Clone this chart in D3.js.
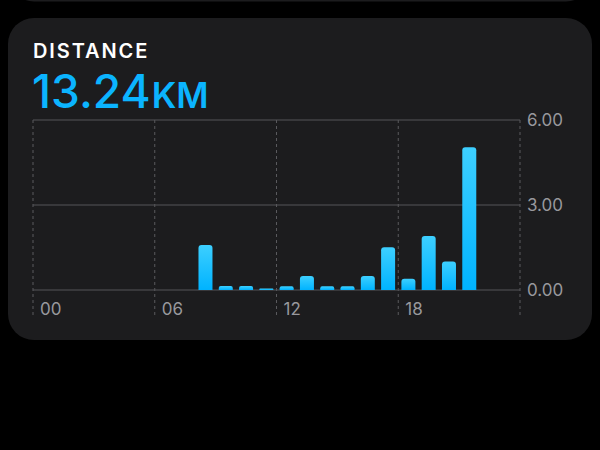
<!DOCTYPE html>
<head>
<meta charset="utf-8">
<style>
  html,body {
    margin: 0;
    background: #000;
    font-family: Inter, "Noto Sans", sans-serif;
  }
</style>
<script src="https://d3js.org/d3.v7.min.js"></script>
</head>
<body>
<div id="viz"></div>
<script>
// hourly distance (km)
const hours = [8, 9, 10, 11, 12, 13, 14, 15, 16, 17, 18, 19, 20, 21];
const dist = [1.59, 0.14, 0.14, 0.05, 0.13, 0.49, 0.13, 0.13, 0.49, 1.51, 0.40, 1.91, 1.01, 5.04];
const xTicks = [0, 6, 12, 18];
const xTickLabels = ["00", "06", "12", "18"];
const yTicks = [0, 3, 6];
const title = "DISTANCE";
const total = "13.24";
const unit = "KM";

var svg = d3.select("#viz").append("svg")
  .attr("width", 600)
  .attr("height", 450);

var defs = svg.append("defs");
var grad = defs.append("linearGradient")
  .attr("id", "barGrad")
  .attr("x1", 0).attr("y1", 0).attr("x2", 0).attr("y2", 1);
grad.append("stop").attr("offset", "0%").attr("stop-color", "#3dcfff");
grad.append("stop").attr("offset", "100%").attr("stop-color", "#00b3ff");

// card above (just its bottom edge shows)
svg.append("rect")
  .attr("x", 8).attr("y", -60)
  .attr("width", 584).attr("height", 61.5)
  .attr("rx", 26)
  .attr("fill", "#1c1c1e");

// main card
svg.append("rect")
  .attr("x", 8).attr("y", 18)
  .attr("width", 584).attr("height", 322)
  .attr("rx", 26)
  .attr("fill", "#1c1c1e");

svg.append("text")
  .attr("x", 33).attr("y", 58)
  .attr("fill", "#ffffff")
  .attr("font-size", "20px")
  .attr("font-weight", 600)
  .attr("letter-spacing", "1.9px")
  .text(title);

var big = svg.append("text")
  .attr("x", 32).attr("y", 108)
  .attr("fill", "#0bb4ff")
  .attr("font-weight", 500);
big.append("tspan").attr("font-size", "46px").text(total);
big.append("tspan").attr("font-size", "35px").attr("font-weight", 600).attr("dx", 1).text(unit);

var x = d3.scaleLinear().domain([0, 24]).range([33, 520]);
var y = d3.scaleLinear().domain([0, 6]).range([290, 120]);

// dashed vertical grid
svg.append("g")
  .selectAll("line")
  .data([0, 6, 12, 18, 24])
  .enter()
  .append("line")
    .attr("x1", d => x(d)).attr("x2", d => x(d))
    .attr("y1", y(6)).attr("y2", 318)
    .attr("stroke", "#5a5a5e")
    .attr("stroke-width", 1)
    .attr("stroke-dasharray", "3,3");

// horizontal grid
svg.append("g")
  .selectAll("line")
  .data(yTicks)
  .enter()
  .append("line")
    .attr("x1", x(0)).attr("x2", x(24))
    .attr("y1", d => y(d)).attr("y2", d => y(d))
    .attr("stroke", "#545458")
    .attr("stroke-width", 1.2);

// y labels
svg.append("g")
  .selectAll("text")
  .data(yTicks)
  .enter()
  .append("text")
    .attr("x", 527)
    .attr("y", d => y(d))
    .attr("dy", "0.35em")
    .attr("fill", "#98989d")
    .attr("font-size", "17px")
    .text(d => d.toFixed(2));

// x labels
svg.append("g")
  .selectAll("text")
  .data(xTicks)
  .enter()
  .append("text")
    .attr("x", (d, i) => x(d) + 7)
    .attr("y", 315)
    .attr("fill", "#98989d")
    .attr("font-size", "17px")
    .text((d, i) => xTickLabels[i]);

// bars with rounded tops
var bw = 14;
var barPath = (h, v) => {
  var cx = x(h + 0.5), x0 = cx - bw / 2, x1 = cx + bw / 2;
  var top = y(v), bot = y(0);
  var r = Math.min(3, (bot - top) / 2);
  return `M${x0},${bot} L${x0},${top + r} Q${x0},${top} ${x0 + r},${top} L${x1 - r},${top} Q${x1},${top} ${x1},${top + r} L${x1},${bot} Z`;
};

svg.append("g")
  .selectAll("path")
  .data(hours)
  .enter()
  .append("path")
    .attr("d", (d, i) => barPath(d, dist[i]))
    .attr("fill", "url(#barGrad)");
</script>
</body>
</html>
